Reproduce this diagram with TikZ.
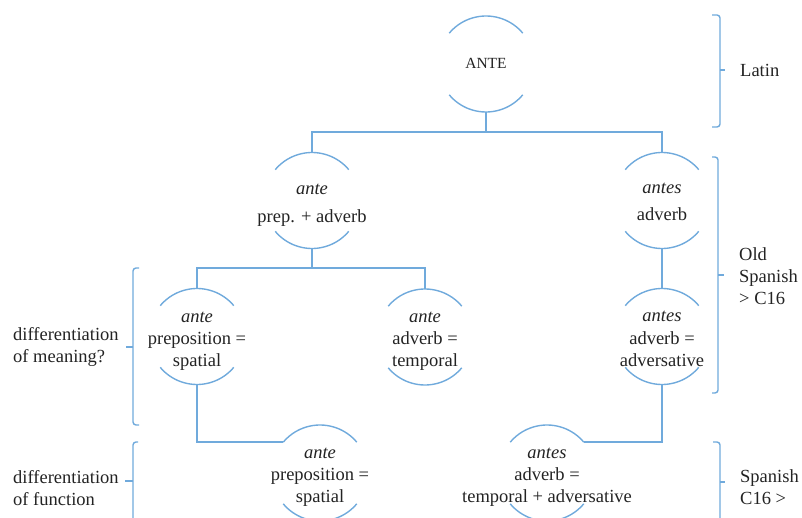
\documentclass[tikz,border=0pt]{standalone}
\usepackage{fontspec}
\setmainfont{Liberation Serif}
\definecolor{lnk}{RGB}{112,170,220}
\definecolor{txt}{RGB}{35,35,35}
\begin{document}
\begin{tikzpicture}[x=1pt,y=-1pt,
  ring/.style={circle,minimum size=96pt,inner sep=0pt,outer sep=0pt},
  lbl/.style={align=center,inner sep=0pt,text=txt,font=\fontsize{18.5}{22.2}\selectfont},
  side/.style={align=left,anchor=west,inner sep=0pt,text=txt,font=\fontsize{18.5}{22.2}\selectfont},
  link/.style={draw=lnk,line width=1.5pt},
  arcline/.style={draw=lnk,line width=1.4pt},
  brk/.style={draw=lnk,line width=1.4pt,rounded corners=3pt}]
\useasboundingbox (0,0) rectangle (802,518);
\clip (0,0) rectangle (802,518);

% ring nodes
\node[ring] (A) at (486,64) {};
\node[ring] (B) at (312,200.5) {};
\node[ring] (C) at (662,200.5) {};
\node[ring] (D) at (197,336.5) {};
\node[ring] (E) at (425,337) {};
\node[ring] (F) at (662,336.5) {};
\node[ring] (G) at (320,473) {};
\node[ring] (H) at (547,473) {};

\foreach \n in {A,B,C,D,E,F,G,H}{
  \draw[arcline] (\n.40) arc[start angle=40,end angle=140,radius=48pt];
  \draw[arcline] (\n.220) arc[start angle=220,end angle=320,radius=48pt];
}

% texts
\node[lbl,font=\fontsize{15.5}{18}\selectfont] (At) at (486,63) {ANTE};
\node[lbl] (Bt) at (312,205) {\textit{ante}\\[5.8pt]prep. + adverb};
\node[lbl] (Ct) at (662,201.5) {\textit{antes}\\[4.8pt]adverb};
\node[lbl] (Dt) at (197,341) {\textit{ante}\\preposition =\\spatial};
\node[lbl] (Et) at (425,341) {\textit{ante}\\adverb =\\temporal};
\node[lbl] (Ft) at (662,339) {\textit{antes}\\adverb =\\adversative};
\node[lbl] (Gt) at (320,477) {\textit{ante}\\preposition =\\spatial};
\node[lbl] (Ht) at (547,477) {\textit{antes}\\adverb =\\temporal + adversative};

% side labels
\node[side] (lat) at (740,70) {Latin};
\node[side] (old) at (739,276) {Old\\Spanish\\> C16};
\node[side] (spa) at (740,487) {Spanish\\C16 >};
\node[side] (mea) at (13,347) {differentiation\\of meaning?};
\node[side] (fun) at (13,488) {differentiation\\of function};

% connectors
\coordinate (jA) at (486,132);
\coordinate (jB) at (312,268);
\draw[link] (A.south) -- (jA);
\draw[link] (B.north) |- (jA) -| (C.north);
\draw[link] (B.south) -- (jB);
\draw[link] (D.north) |- (jB) -| (E.north);
\draw[link] (C.south) -- (F.north);
\draw[link] (D.south) |- (G.140);
\draw[link] (F.south) |- (H.40);

% brackets
\draw[brk] (712,15) -- (720,15) -- (720,127) -- (712,127);
\draw[brk] (720,70) -- (725,70);
\draw[brk] (712,157) -- (718,157) -- (718,393) -- (712,393);
\draw[brk] (718,275) -- (724,275);
\draw[brk] (713,442) -- (720,442) -- (720,540);
\draw[brk] (720,482) -- (725,482);
\draw[brk] (139,268) -- (133,268) -- (133,425) -- (139,425);
\draw[brk] (133,347) -- (126,347);
\draw[brk] (138,442) -- (133,442) -- (133,540);
\draw[brk] (133,481) -- (125,481);
\end{tikzpicture}
\end{document}
